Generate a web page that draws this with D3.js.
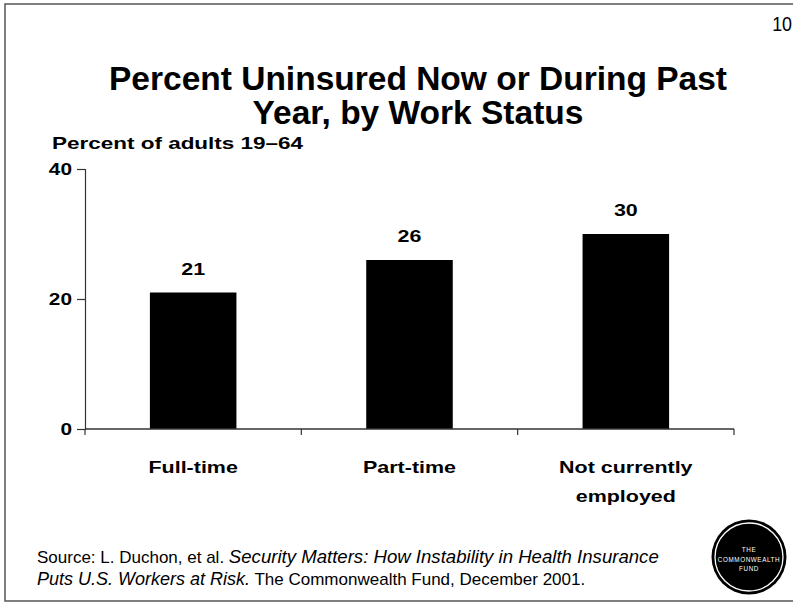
<!DOCTYPE html>
<html>
<head>
<meta charset="utf-8">
<script src="https://cdn.jsdelivr.net/npm/d3@7"></script>
<style>
  html, body { margin: 0; padding: 0; background: #fff; }
  svg { display: block; }
  text { font-family: Arial, "Liberation Sans", Helvetica, sans-serif; fill: #000; }
</style>
</head>
<body>
<svg id="chart" width="793" height="607"></svg>
<script>
// Work status categories and share uninsured (percent of adults 19-64)
const categories = ["Full-time", "Part-time", "Not currently employed"];
const categoryLines = [["Full-time"], ["Part-time"], ["Not currently", "employed"]];
const values = [21, 26, 30];
const yTicks = [0, 20, 40];

const titleLines = ["Percent Uninsured Now or During Past", "Year, by Work Status"];
const yAxisTitle = "Percent of adults 19\u201364";
const slideNumber = "10";
const logoLines = ["THE", "COMMONWEALTH", "FUND"];

const svg = d3.select("#chart");
const W = 793, H = 607;

// Slide frame
svg.append("rect")
  .attr("x", 5).attr("y", 4).attr("width", W + 10).attr("height", 597)
  .attr("fill", "none").attr("stroke", "#555").attr("stroke-width", 1.5);

// Slide number
svg.append("text")
  .attr("transform", "translate(792,31) scale(0.85,1)")
  .attr("text-anchor", "end")
  .attr("font-size", 21)
  .text(slideNumber);

// Title
svg.append("g").selectAll("text").data(titleLines).join("text")
  .attr("x", 418).attr("y", (d, i) => 90 + i * 34)
  .attr("text-anchor", "middle")
  .attr("font-weight", "bold")
  .attr("font-size", 33.5)
  .text(d => d);

// Plot area
const margin = { left: 85, right: W - 734, top: 169, bottom: H - 429 };
const x = d3.scaleBand()
  .domain(categories)
  .range([margin.left, W - margin.right])
  .paddingInner(0.6)
  .paddingOuter(0.3);
const y = d3.scaleLinear().domain([0, 40]).range([H - margin.bottom, margin.top]);

// Wide bold text used for the chart labels
const SX = 1.3;
function wideText(parent, px, py, str, size, anchor) {
  return parent.append("text")
    .attr("transform", `translate(${px},${py}) scale(${SX},1)`)
    .attr("text-anchor", anchor)
    .attr("font-weight", "bold")
    .attr("font-size", size)
    .text(str);
}

// Bars
svg.append("g").selectAll("rect").data(values).join("rect")
  .attr("x", (d, i) => x(categories[i]))
  .attr("y", d => y(d))
  .attr("width", x.bandwidth())
  .attr("height", d => y(0) - y(d))
  .attr("fill", "#000");

// Y axis
const yAxis = svg.append("g")
  .attr("transform", `translate(${margin.left},0)`)
  .call(d3.axisLeft(y).tickValues(yTicks).tickSize(8).tickFormat(""));
yAxis.selectAll("path, line").attr("stroke", "#333").attr("stroke-width", 1.2);

yTicks.forEach(t => {
  wideText(svg, 72, y(t) + 6, String(t), 16, "end");
});

// X axis with ticks on the category boundaries
const xAxisG = svg.append("g").attr("transform", `translate(0,${y(0)})`);
xAxisG.append("line")
  .attr("x1", margin.left).attr("x2", W - margin.right)
  .attr("y1", 0).attr("y2", 0)
  .attr("stroke", "#333").attr("stroke-width", 1.5);
const step = x.step();
const boundaries = d3.range(categories.length + 1)
  .map(i => margin.left + i * step);
xAxisG.selectAll("line.tick").data(boundaries).join("line")
  .attr("class", "tick")
  .attr("x1", d => d).attr("x2", d => d)
  .attr("y1", 0).attr("y2", 6)
  .attr("stroke", "#333").attr("stroke-width", 1.2);

// Category labels
categoryLines.forEach((lines, i) => {
  const cx = x(categories[i]) + x.bandwidth() / 2;
  lines.forEach((ln, j) => {
    wideText(svg, cx, 473 + j * 29, ln, 16.5, "middle");
  });
});

// Value labels above bars
values.forEach((v, i) => {
  const cx = x(categories[i]) + x.bandwidth() / 2;
  wideText(svg, cx, y(v) - 18, String(v), 16.5, "middle");
});

// Y axis title
wideText(svg, 52, 149, yAxisTitle, 17.3, "start");

// Source note
const src = svg.append("text").attr("font-size", 17);
const l1 = src.append("tspan").attr("x", 37).attr("y", 563);
l1.append("tspan").text("Source: L. Duchon, et al. ");
l1.append("tspan").attr("font-style", "italic").attr("font-size", 18.6)
  .text("Security Matters: How Instability in Health Insurance");
const l2 = src.append("tspan").attr("x", 37).attr("y", 585);
l2.append("tspan").attr("font-style", "italic").attr("font-size", 18)
  .text("Puts U.S. Workers at Risk.");
l2.append("tspan").text(" The Commonwealth Fund, December 2001.");

// Foundation seal
const logo = svg.append("g").attr("transform", "translate(749,557)");
logo.append("circle").attr("r", 37.5).attr("fill", "#000");
logo.append("circle").attr("r", 34).attr("fill", "none")
  .attr("stroke", "#fff").attr("stroke-width", 1.3);
logo.selectAll("text").data(logoLines).join("text")
  .attr("x", 0).attr("y", (d, i) => -5 + i * 9.5)
  .attr("text-anchor", "middle")
  .attr("font-size", 6.3)
  .attr("letter-spacing", 0.6)
  .style("fill", "#fff")
  .text(d => d);
</script>
</body>
</html>
